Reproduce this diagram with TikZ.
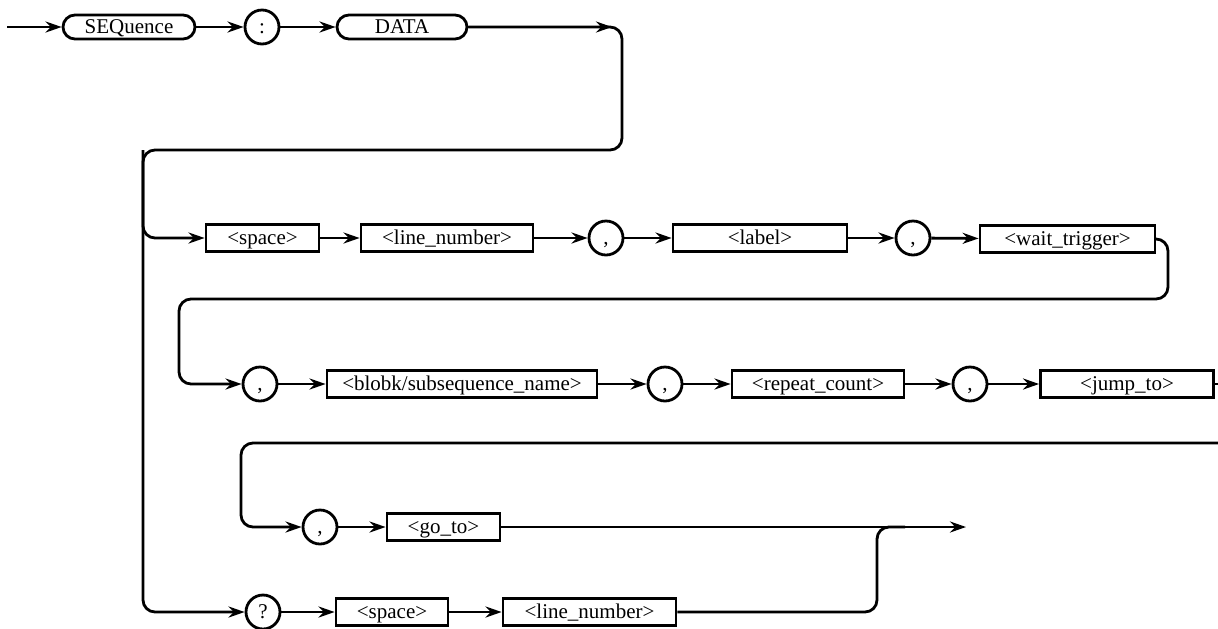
\documentclass[tikz,border=0pt]{standalone}
\usepackage{fontspec}
\setmainfont{Liberation Serif}
\usetikzlibrary{arrows.meta}

\tikzset{
  term/.style={draw, rounded corners=6pt, minimum height=12pt, inner sep=0pt,
               text height=7pt, text depth=1pt},
  field/.style={draw, minimum height=13.5pt, inner sep=0pt,
                text height=7pt, text depth=1pt},
  sepc/.style={draw, circle, minimum size=17pt, inner sep=0pt,
               text height=7pt, text depth=1pt},
  flow/.style={-{Stealth[length=8pt,width=5.5pt]}},
  wire/.style={rounded corners=6pt},
}

\begin{document}
\begin{tikzpicture}[x=0.5pt, y=-0.5pt, line width=1.4pt,
                    font=\fontsize{10.5pt}{12pt}\selectfont]
  \useasboundingbox (0,0) rectangle (1218,628);

  % header
  \coordinate (start) at (7,27);
  \node[term, minimum width=66pt] (seq) at (129,27) {SEQuence};
  \node[sepc] (colon) at (262,27) {:};
  \node[term, minimum width=65pt] (data) at (402,27) {DATA};
  \coordinate (k1) at (612,27);
  \coordinate (r0) at (622,27);
  \coordinate (r0b) at (622,150);
  \coordinate (l0) at (143,150);

  % line 1
  \node[field, minimum width=56.5pt] (sp1) at (262.5,238) {<space>};
  \node[field, minimum width=86pt] (ln1) at (447,238) {<line\_number>};
  \node[sepc] (c1) at (606,238) {,};
  \node[field, minimum width=87pt] (lab) at (760,238) {<label>};
  \node[sepc] (c2) at (913,238) {,};
  \node[field, minimum width=87.5pt] (wt) at (1067.5,239) {<wait\_trigger>};
  \coordinate (r1) at (1168,239);
  \coordinate (r1b) at (1168,299);
  \coordinate (l1) at (179,299);

  % line 2
  \node[sepc] (c3) at (260,384) {,};
  \node[field, minimum width=135pt] (blob) at (462,384) {<blobk/subsequence\_name>};
  \node[sepc] (c4) at (665,384) {,};
  \node[field, minimum width=86pt] (rep) at (818,384) {<repeat\_count>};
  \node[sepc] (c5) at (970,384) {,};
  \node[field, minimum width=86.5pt] (jump) at (1127,384) {<jump\_to>};
  \coordinate (edge2) at (1219,384);
  \coordinate (edge3) at (1219,443);
  \coordinate (l3) at (241,443);

  % line 3
  \node[sepc] (c6) at (320,527) {,};
  \node[field, minimum width=56.5pt] (goto) at (443.5,527) {<go\_to>};
  \coordinate (out) at (966,527);

  % query
  \node[sepc] (q) at (263,612) {?};
  \node[field, minimum width=56pt] (sp2) at (392,612) {<space>};
  \node[field, minimum width=86.5pt] (ln2) at (589.5,612) {<line\_number>};
  \coordinate (join) at (877,527);
  \coordinate (join2) at (905,527);

  \draw[flow] (start) -- (seq);
  \draw[flow] (seq) -- (colon);
  \draw[flow] (colon) -- (data);
  \draw[flow] (data) -- (k1);
  \draw[wire, flow] (data) -- (r0) -- (r0b) -- (l0) |- (q);
  \draw[wire, flow] (l0) |- (sp1);

  \draw[flow] (sp1) -- (ln1);
  \draw[flow] (ln1) -- (c1);
  \draw[flow] (c1) -- (lab);
  \draw[flow] (lab) -- (c2);
  \draw[flow] (c2) -- (wt);
  \draw[wire, flow] (wt) -- (r1) -- (r1b) -- (l1) |- (c3);

  \draw[flow] (c3) -- (blob);
  \draw[flow] (blob) -- (c4);
  \draw[flow] (c4) -- (rep);
  \draw[flow] (rep) -- (c5);
  \draw[flow] (c5) -- (jump);
  \draw (jump) -- (edge2);
  \draw[wire, flow] (edge3) -- (l3) |- (c6);

  \draw[flow] (c6) -- (goto);
  \draw[flow] (goto) -- (out);

  \draw[flow] (q) -- (sp2);
  \draw[flow] (sp2) -- (ln2);
  \draw[wire] (ln2) -| (join) -- (join2);
\end{tikzpicture}
\end{document}
